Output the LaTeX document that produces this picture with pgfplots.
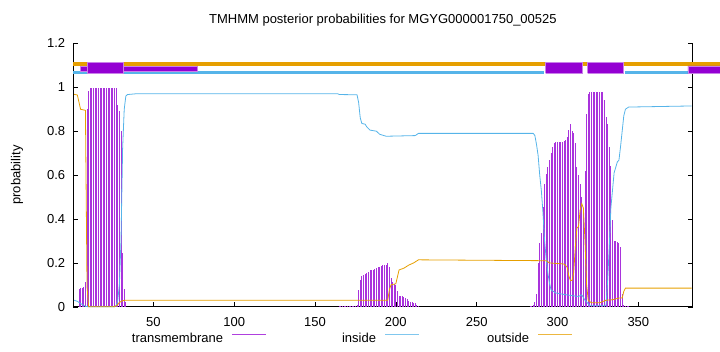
\documentclass[border=0pt]{standalone}
\usepackage{fontspec}
\setmainfont{Liberation Sans}
\usepackage{pgfplots}
\pgfplotsset{compat=1.18}
\definecolor{tmc}{HTML}{9400D3}
\definecolor{inc}{HTML}{56B4E9}
\definecolor{outc}{HTML}{E69F00}
\begin{document}
\fontsize{13bp}{15bp}\selectfont
\begin{tikzpicture}
\path[use as bounding box] (-73.3bp,-45.2bp) rectangle (646.7bp,306.8bp);
\begin{axis}[
  at={(0,0)}, anchor=south west,
  scale only axis, width=619.2bp, height=263.4bp,
  xmin=0.5, xmax=383.5, ymin=0, ymax=1.2,
  clip=false,
  axis x line*=bottom, axis y line*=box,
  axis line style={black, line width=0.9bp},
  tick align=inside, major tick length=5bp,
  tick style={black, line width=0.6bp},
  xtick={50,100,150,200,250,300,350},
  ytick={0,0.2,0.4,0.6,0.8,1,1.2},
  /pgf/number format/assume math mode=true,
  tick label style={font=\fontsize{13bp}{15bp}\selectfont},
  yticklabel style={inner sep=0pt, xshift=-8bp},
  xticklabel style={inner sep=0pt, anchor=north, yshift=-10.5bp},
  every axis y label/.style={at={(axis description cs:-0.0909,0.5)}, rotate=90, anchor=center, font=\fontsize{13bp}{15bp}\selectfont},
  ylabel={probability},
  every axis title/.style={at={(axis description cs:0.5,1)}, yshift=23.4bp, anchor=center, font=\fontsize{13bp}{15bp}\selectfont},
  title={TMHMM posterior probabilities for MGYG000001750\_00525},
  legend plot pos=right,
  legend style={draw=none, fill=none, inner sep=0pt, outer sep=0pt,
    at={(axis description cs:0.0803,-0.1222)}, anchor=west,
    nodes={inner sep=0pt, text width=100bp, align=right, font=\fontsize{13bp}{15bp}\selectfont},
    /tikz/every odd column/.append style={column sep=8.7bp},
    /tikz/every even column/.append style={column sep=10bp}},
  legend columns=3,
  legend image code/.code={\draw[#1] (0bp,0.33em) -- (33.5bp,0.33em);},
]
\addlegendimage{tmc!75!white, line width=0.8bp}
\addlegendimage{inc!75!white, line width=0.8bp}
\addlegendimage{outc!75!white, line width=0.8bp}

% transmembrane posterior probability (impulses)
\addplot[ycomb, tmc!80!white, line width=0.9bp, forget plot] coordinates {
(4,0.08) (5,0.085) (6,0.085) (7,0.088) (8,0.115) (9,0.9) (10,0.985)
(11,0.997) (12,0.997) (13,0.997) (14,0.997) (15,0.997) (16,0.997) (17,0.997) (18,0.997) (19,0.997)
(20,0.997) (21,0.997) (22,0.997) (23,0.997) (24,0.997) (25,0.997) (26,0.997) (27,0.997)
(28,0.92) (29,0.89) (30,0.8) (31,0.245) (32,0.08) (33,0.02)
(165,0.005) (166,0.005) (167,0.005) (168,0.005) (169,0.005) (170,0.005) (171,0.005) (172,0.005)
(173,0.005) (174,0.005) (175,0.005) (176,0.006)
(177,0.077) (178,0.123) (179,0.14) (180,0.145) (181,0.15) (182,0.153) (183,0.16) (184,0.168)
(185,0.168) (186,0.168) (187,0.172) (188,0.176) (189,0.18) (190,0.183) (191,0.185) (192,0.19)
(193,0.19) (194,0.19) (195,0.198) (196,0.183) (197,0.13) (198,0.115) (199,0.105) (200,0.1)
(201,0.07) (202,0.05) (203,0.05) (204,0.05) (205,0.045) (206,0.04) (207,0.035) (208,0.025)
(209,0.022) (210,0.02) (211,0.018) (212,0.017) (213,0.01) (214,0.005)
(283,0.003) (284,0.005) (285,0.01) (286,0.024) (287,0.06) (288,0.2) (289,0.29) (290,0.335)
(291,0.456) (292,0.56) (293,0.607) (294,0.638) (295,0.668) (296,0.7) (297,0.73) (298,0.744)
(299,0.751) (300,0.751) (301,0.751) (302,0.751) (303,0.751) (304,0.755) (305,0.759) (306,0.774)
(307,0.805) (308,0.835) (309,0.8) (310,0.79) (311,0.744) (312,0.638) (313,0.6) (314,0.56)
(315,0.5) (316,0.45) (317,0.62) (318,0.88) (319,0.97) (320,0.98) (321,0.98) (322,0.98)
(323,0.98) (324,0.98) (325,0.98) (326,0.98) (327,0.98) (328,0.98) (329,0.94) (330,0.865)
(331,0.835) (332,0.73) (333,0.64) (334,0.395) (335,0.3) (336,0.3) (337,0.297) (338,0.29)
(339,0.274) (340,0.06) (341,0.01) (342,0.005) (343,0.004) (344,0.003)
};

% inside
\addplot[inc, line width=0.8bp, forget plot] coordinates {
(1,0.03) (3,0.025) (5,0.015) (8,0.002) (10,0) (26,0) (27,0.005) (28,0.03) (29,0.1) (30,0.3)
(31,0.72) (32,0.9) (33,0.96) (34,0.967) (40,0.971) (164,0.971) (165,0.967) (176,0.966)
(177,0.93) (178,0.86) (179,0.835) (181,0.832) (182,0.82) (184,0.805) (188,0.8) (190,0.786)
(194,0.777) (212,0.78) (213,0.785) (214,0.79) (285,0.79) (286,0.78) (287,0.74) (288,0.69)
(289,0.6) (290,0.53) (291,0.43) (292,0.3) (293,0.22) (294,0.155) (295,0.11) (296,0.077)
(299,0.063) (305,0.055) (313,0.047) (315,0.055) (317,0.03) (319,0.014) (320,0.005) (330,0.005)
(331,0.12) (332,0.27) (333,0.45) (335,0.61) (337,0.66) (338,0.668) (339,0.73) (340,0.8)
(341,0.87) (342,0.9) (344,0.91) (383,0.915)
};

% outside
\addplot[outc, line width=0.8bp, forget plot] coordinates {
(1,0.968) (3,0.965) (5,0.9) (8,0.895) (9,0.09) (10,0) (26,0) (27,0.005) (28,0.01) (29,0.02)
(31,0.028) (33,0.03) (195,0.03) (196,0.077) (197,0.1) (200,0.105) (202,0.168) (205,0.176)
(208,0.19) (211,0.2) (214,0.214) (293,0.21) (295,0.2) (304,0.195) (306,0.18) (307,0.14)
(308,0.12) (309,0.12) (310,0.155) (311,0.27) (312,0.36) (313,0.365) (314,0.44) (315,0.47)
(316,0.45) (317,0.3) (318,0.1) (319,0.03) (321,0.018) (326,0.018) (330,0.03) (334,0.032)
(338,0.04) (340,0.04) (341,0.07) (342,0.085) (383,0.085)
};

% topology bars
\addplot[outc, line width=4bp, forget plot] coordinates {(0.5,1.1075) (400.5,1.1075)};
\addplot[inc, line width=3bp, forget plot] coordinates {(0.5,1.068) (291.7,1.068)};
\addplot[inc, line width=3bp, forget plot] coordinates {(341.7,1.068) (383.5,1.068)};
\addplot[fill=tmc, draw=tmc!50!white, line width=0.5bp, forget plot] coordinates {(4.7,1.074) (77,1.074) (77,1.097) (4.7,1.097) (4.7,1.074)};
\addplot[fill=tmc, draw=tmc!50!white, line width=0.5bp, forget plot] coordinates {(9,1.063) (31.3,1.063) (31.3,1.113) (9,1.113) (9,1.063)};
\addplot[fill=tmc, draw=tmc!50!white, line width=0.5bp, forget plot] coordinates {(292.7,1.063) (315,1.063) (315,1.113) (292.7,1.113) (292.7,1.063)};
\addplot[fill=tmc, draw=tmc!50!white, line width=0.5bp, forget plot] coordinates {(318.7,1.063) (340.7,1.063) (340.7,1.113) (318.7,1.113) (318.7,1.063)};
\addplot[fill=tmc, draw=tmc!50!white, line width=0.5bp, forget plot] coordinates {(380.7,1.063) (400.5,1.063) (400.5,1.098) (380.7,1.098) (380.7,1.063)};

\legend{transmembrane, inside, outside}
\end{axis}
\end{tikzpicture}
\end{document}
